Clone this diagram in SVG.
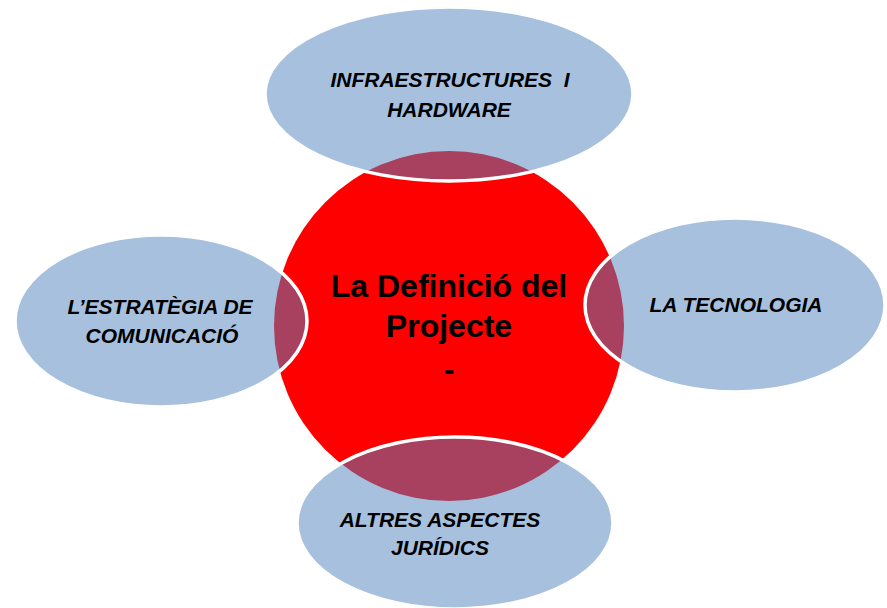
<svg xmlns="http://www.w3.org/2000/svg" width="887" height="608" viewBox="0 0 887 608">
<style>
.bg{fill:#ffffff}
.core{fill:#ff0000}
.sat{fill:#4F81BD;fill-opacity:0.5;stroke:#ffffff;stroke-width:3.5}
.lbl{font-family:"Liberation Sans",Arial,sans-serif;font-weight:bold;font-style:italic;font-size:21px;fill:#000000;text-anchor:middle}
.title{font-family:"Liberation Sans",Arial,sans-serif;font-weight:bold;font-size:32px;fill:#000000;text-anchor:middle}
</style>
<rect class="bg" x="0" y="0" width="887" height="608"/>
<g id="center">
<circle class="core" cx="449" cy="326" r="175"/>
<text class="title" x="449" y="297">La Definició del</text>
<text class="title" x="449" y="337">Projecte</text>
<text class="title" x="449" y="380">-</text>
</g>
<g id="top">
<ellipse class="sat" cx="449" cy="94" rx="184" ry="87"/>
<text class="lbl" x="450" y="87" xml:space="preserve">INFRAESTRUCTURES  I</text>
<text class="lbl" x="449" y="117">HARDWARE</text>
</g>
<g id="right">
<ellipse class="sat" cx="735" cy="305" rx="150" ry="87"/>
<text class="lbl" x="736" y="312">LA TECNOLOGIA</text>
</g>
<g id="left">
<ellipse class="sat" cx="161" cy="321" rx="146" ry="86"/>
<text class="lbl" x="160" y="314">L’ESTRATÈGIA DE</text>
<text class="lbl" x="162" y="343">COMUNICACIÓ</text>
</g>
<g id="bottom">
<ellipse class="sat" cx="455" cy="523" rx="158" ry="86"/>
<text class="lbl" x="440" y="527">ALTRES ASPECTES</text>
<text class="lbl" x="440" y="555">JURÍDICS</text>
</g>
</svg>
